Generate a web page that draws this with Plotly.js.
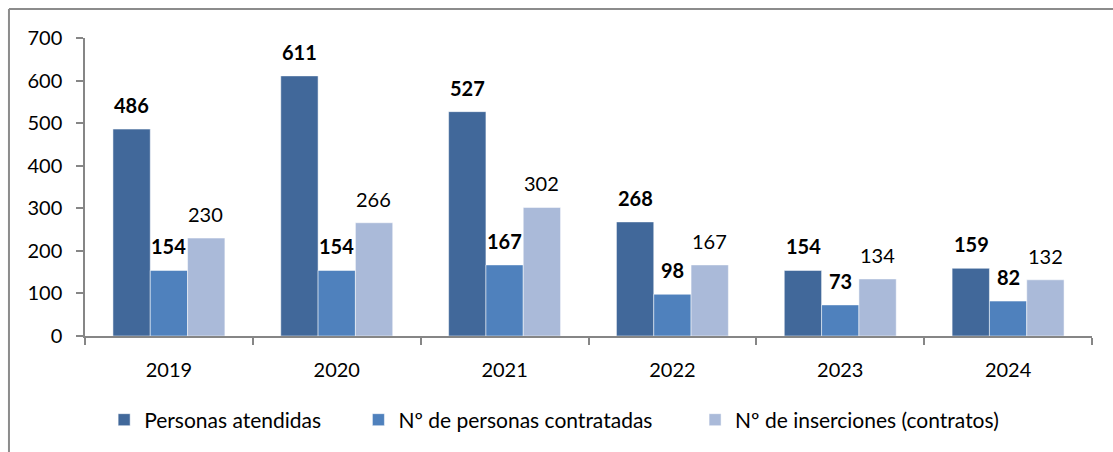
<!DOCTYPE html>
<html>
<head>
<meta charset="utf-8">
<script src="https://cdn.plot.ly/plotly-3.0.1.min.js"></script>
<style>
  body { margin: 0; background: #fff; }
  #chart { width: 1113px; height: 452px; }
</style>
</head>
<body>
<div id="chart"></div>
<script>
// Years on the x axis
const years = ['2019', '2020', '2021', '2022', '2023', '2024'];

// Series values
const atendidas = [486, 611, 527, 268, 154, 159];
const contratadas = [154, 154, 167, 98, 73, 82];
const inserciones = [230, 266, 302, 167, 134, 132];

const seriesNames = ['Personas atendidas', 'Nº de personas contratadas', 'Nº de inserciones (contratos)'];
const seriesColors = ['#41689a', '#4f81bd', '#aabad9'];

const FONT = 'Lato, "Open Sans", sans-serif';

const allSeries = [atendidas, contratadas, inserciones];

// extra spacing after legend entries so items spread like the original
const NB = '\u00a0';
const legendPad = [NB.repeat(6), NB.repeat(7), ''];

const traces = allSeries.map((vals, i) => ({
    x: years,
    y: vals,
    type: 'bar',
    name: seriesNames[i] + legendPad[i],
    marker: {
        color: seriesColors[i],
        line: { color: '#ffffff', width: 0.5 }
    },
    hovertemplate: '%{x}: %{y}<extra>' + seriesNames[i] + '</extra>'
}));

// Value labels above each bar (first two series bold).
// x is the category index, since the year strings look numeric to annotations.
const shifts = [-37, 0, 37];
const annotations = [];
allSeries.forEach((vals, i) => {
    vals.forEach((v, j) => {
        annotations.push({
            x: j,
            y: v,
            xref: 'x',
            yref: 'y',
            xshift: shifts[i],
            yshift: 24,
            yanchor: 'middle',
            showarrow: false,
            text: i < 2 ? '<b>' + v + '</b>' : String(v),
            font: { family: FONT, size: 20, color: '#000000' }
        });
    });
});

// Outer chart border (only top and left are visible in the crop)
const shapes = [
    { type: 'line', xref: 'paper', yref: 'paper', x0: -0.0755, x1: 1.2, y0: 1.0973, y1: 1.0973,
      line: { color: '#8c8c8c', width: 2 } },
    { type: 'line', xref: 'paper', yref: 'paper', x0: -0.0755, x1: -0.0755, y0: 1.0973, y1: -0.5,
      line: { color: '#8c8c8c', width: 2 } }
];

const layout = {
    width: 1113,
    height: 452,
    margin: { l: 85, r: 21, t: 38, b: 116 },
    paper_bgcolor: '#ffffff',
    plot_bgcolor: '#ffffff',
    font: { family: FONT, size: 20, color: '#000000' },
    barmode: 'group',
    bargap: 0.333,
    bargroupgap: 0,
    showlegend: true,
    legend: {
        orientation: 'h',
        x: 0.019,
        xanchor: 'left',
        y: -0.282,
        yanchor: 'middle',
        font: { family: FONT, size: 21, color: '#000000' },
        itemwidth: 30
    },
    xaxis: {
        type: 'category',
        range: [-0.5, 5.5],
        showline: true,
        linecolor: '#868686',
        linewidth: 1.5,
        ticks: 'outside',
        tickson: 'boundaries',
        ticklen: 7,
        tickcolor: '#868686',
        tickwidth: 1.5,
        showgrid: false,
        ticklabelstandoff: 15,
        tickfont: { family: FONT, size: 20, color: '#000000' }
    },
    yaxis: {
        range: [0, 700],
        dtick: 100,
        showline: true,
        linecolor: '#868686',
        linewidth: 1.5,
        ticks: 'outside',
        ticklen: 7,
        tickcolor: '#868686',
        tickwidth: 1.5,
        showgrid: false,
        zeroline: false,
        ticklabelstandoff: 10,
        tickfont: { family: FONT, size: 20, color: '#000000' }
    },
    annotations: annotations,
    shapes: shapes
};

const config = {
    responsive: false,
    displayModeBar: false
};

Plotly.newPlot('chart', traces, layout, config);
</script>
</body>
</html>
